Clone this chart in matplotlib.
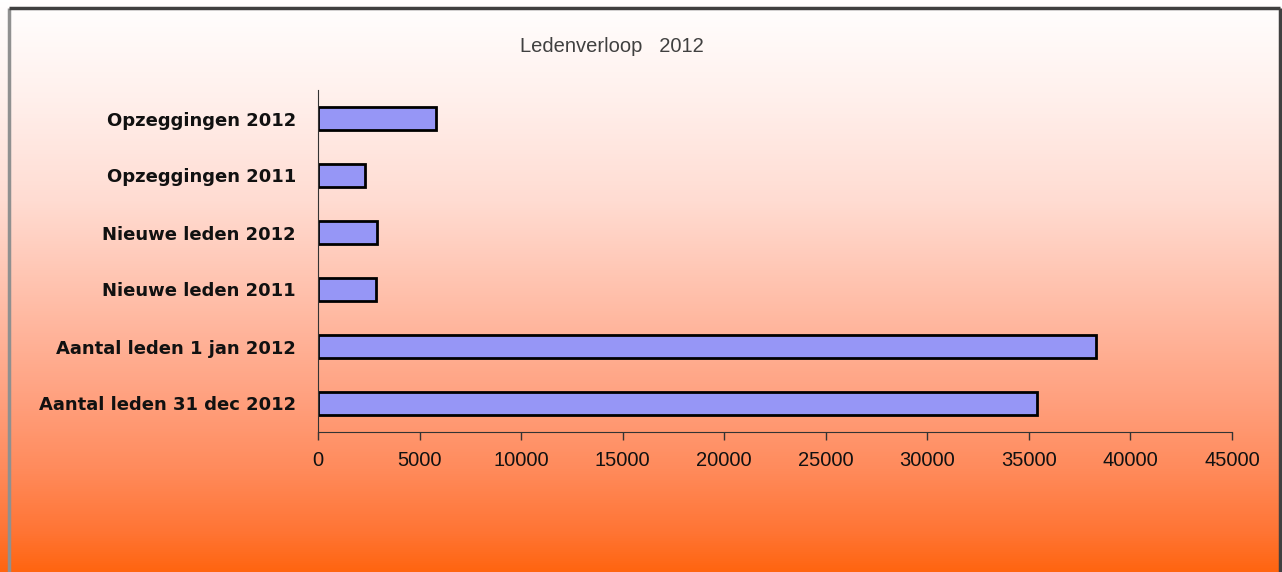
import numpy as np
import matplotlib
matplotlib.use("Agg")
import matplotlib.pyplot as plt
from matplotlib.colors import LinearSegmentedColormap

categories = ["Aantal leden 31 dec 2012", "Aantal leden 1 jan 2012",
              "Nieuwe leden 2011", "Nieuwe leden 2012",
              "Opzeggingen 2011", "Opzeggingen 2012"]
values = [35400, 38300, 2850, 2900, 2300, 5800]
xticks = [0, 5000, 10000, 15000, 20000, 25000, 30000, 35000, 40000, 45000]
title = "Ledenverloop   2012"

W, H = 1282, 572
fig = plt.figure(figsize=(W / 100, H / 100), dpi=100)

# background gradient (top white -> bottom orange)
bg = fig.add_axes([0, 0, 1, 1])
bg.set_axis_off()
stops = [(0.0, "#FFFFFF"), (0.17, "#FFF0EC"), (0.35, "#FFDCD2"),
         (0.52, "#FFBFAA"), (0.70, "#FFA07E"), (0.82, "#FF8B5C"),
         (0.93, "#FF7535"), (1.0, "#FF6510")]
cmap = LinearSegmentedColormap.from_list("bg", stops)
grad = np.linspace(0, 1, 512).reshape(-1, 1)
bg.imshow(grad, aspect="auto", cmap=cmap, extent=[0, 1, 0, 1], origin="upper")
bg.set_xlim(0, 1)
bg.set_ylim(0, 1)
# frame
fx0, fx1 = 9 / W, 1280 / W
fy1 = 1 - 8 / H
bg.plot([fx0, fx0], [0, fy1], color="#909090", lw=2.5, solid_capstyle="butt")
bg.plot([fx0, fx1], [fy1, fy1], color="#404040", lw=2.5, solid_capstyle="butt")
bg.plot([fx1, fx1], [0, fy1], color="#404040", lw=2.5, solid_capstyle="butt")

# plot axes
left, right = 318 / W, 1232 / W
top, bottom = 90 / H, 432 / H
ax = fig.add_axes([left, 1 - bottom, right - left, bottom - top])
ax.patch.set_alpha(0)
y = np.arange(len(categories))
ax.barh(y, values, height=0.42, color="#9696F6", edgecolor="black", linewidth=2.0)
ax.set_xlim(0, 45000)
ax.set_ylim(-0.5, len(categories) - 0.5)
ax.set_xticks(xticks)
ax.set_xticklabels([str(t) for t in xticks], fontsize=14.5, family="Liberation Sans",
                   color="#111111")
ax.set_yticks(y)
ax.set_yticklabels(categories, fontsize=13, fontweight="bold", family="DejaVu Sans",
                   color="#111111")
ax.tick_params(axis="y", length=0, pad=16)
ax.tick_params(axis="x", length=6, width=1, direction="out", pad=8, color="#333333")
for s in ["top", "right"]:
    ax.spines[s].set_visible(False)
ax.spines["left"].set_color("#333333")
ax.spines["bottom"].set_color("#333333")

fig.text(612 / W, 1 - 46 / H, title, ha="center", va="center", fontsize=14.5,
         color="#404040", family="Liberation Sans")

fig.savefig("out.png", dpi=100)
